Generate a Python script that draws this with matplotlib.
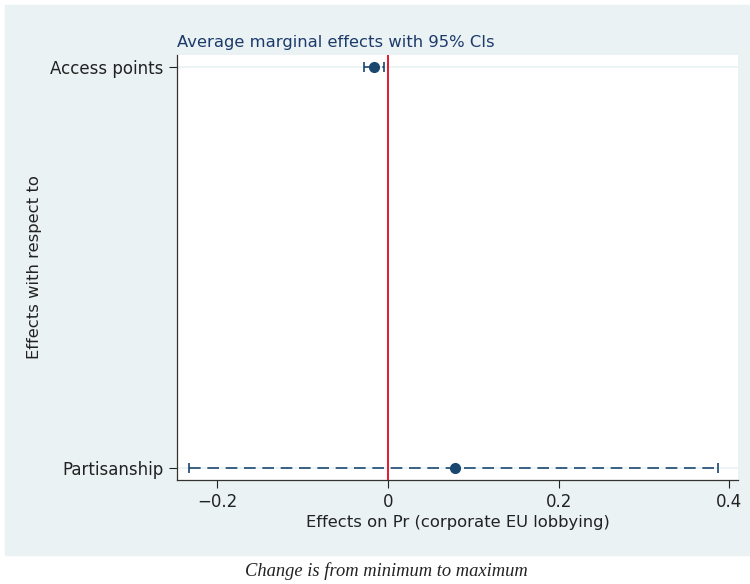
import numpy as np
import matplotlib.pyplot as plt
from matplotlib.patches import Rectangle

# Данни (прочетени от графиката)
labels = ['Access points', 'Partisanship']
effects = [-0.016, 0.078]
ci_low = [-0.028, -0.233]
ci_high = [-0.004, 0.386]
xticks = [-0.2, 0, 0.2, 0.4]
xticklabels = ['\u22120.2', '0', '0.2', '0.4']

navy = '#1a476f'
panel = '#eaf2f3'

fig = plt.figure(figsize=(7.5, 5.84), dpi=100)
fig.patches.append(Rectangle((5 / 750, 1 - 555 / 584), 745 / 750, 550 / 584,
                             transform=fig.transFigure, color=panel, zorder=-5))

ax = fig.add_axes([0.236, 0.178, 0.748, 0.728])
ax.set_zorder(2)
ax.set_facecolor('white')

y = np.arange(len(labels))
for yi, e, lo, hi in zip(y, effects, ci_low, ci_high):
    ax.axhline(yi, color=panel, lw=1.2, zorder=1)
    line = ax.errorbar(e, yi, xerr=[[e - lo], [hi - e]], fmt='none', ecolor=navy,
                       elinewidth=1.2, capsize=3.5, capthick=1.2, zorder=2)
    line[2][0].set_linestyle((0, (7, 4)))
ax.plot(effects, y, 'o', color=navy, ms=7, zorder=4)
ax.axvline(0, color='#e3061c', lw=1.3, zorder=3)

ax.set_xlim(-0.247, 0.41)
ax.set_ylim(1.03, -0.03)
ax.set_yticks(y)
ax.set_yticklabels(labels)
ax.set_xticks(xticks)
ax.set_xticklabels(xticklabels)
ax.tick_params(labelsize=12, colors='#222222', length=6, width=0.8)
for s in ['top', 'right']:
    ax.spines[s].set_visible(False)
for s in ['left', 'bottom']:
    ax.spines[s].set_color('#333333')
    ax.spines[s].set_linewidth(0.9)

ax.set_title('Average marginal effects with 95% CIs', fontsize=11.8,
             color='#1c3a6b', loc='left', x=0.0, pad=6)
ax.set_xlabel('Effects on Pr (corporate EU lobbying)', fontsize=11.8,
              color='#222222', labelpad=3)
ax.set_ylabel('Effects with respect to', fontsize=11.8, color='#222222', labelpad=6)

fig.text(386 / 750, 1 - 571 / 584, 'Change is from minimum to maximum', ha='center',
         va='center', fontsize=13.3, style='italic', family='Liberation Serif',
         color='#222222')

fig.savefig('out.png', dpi=100)
